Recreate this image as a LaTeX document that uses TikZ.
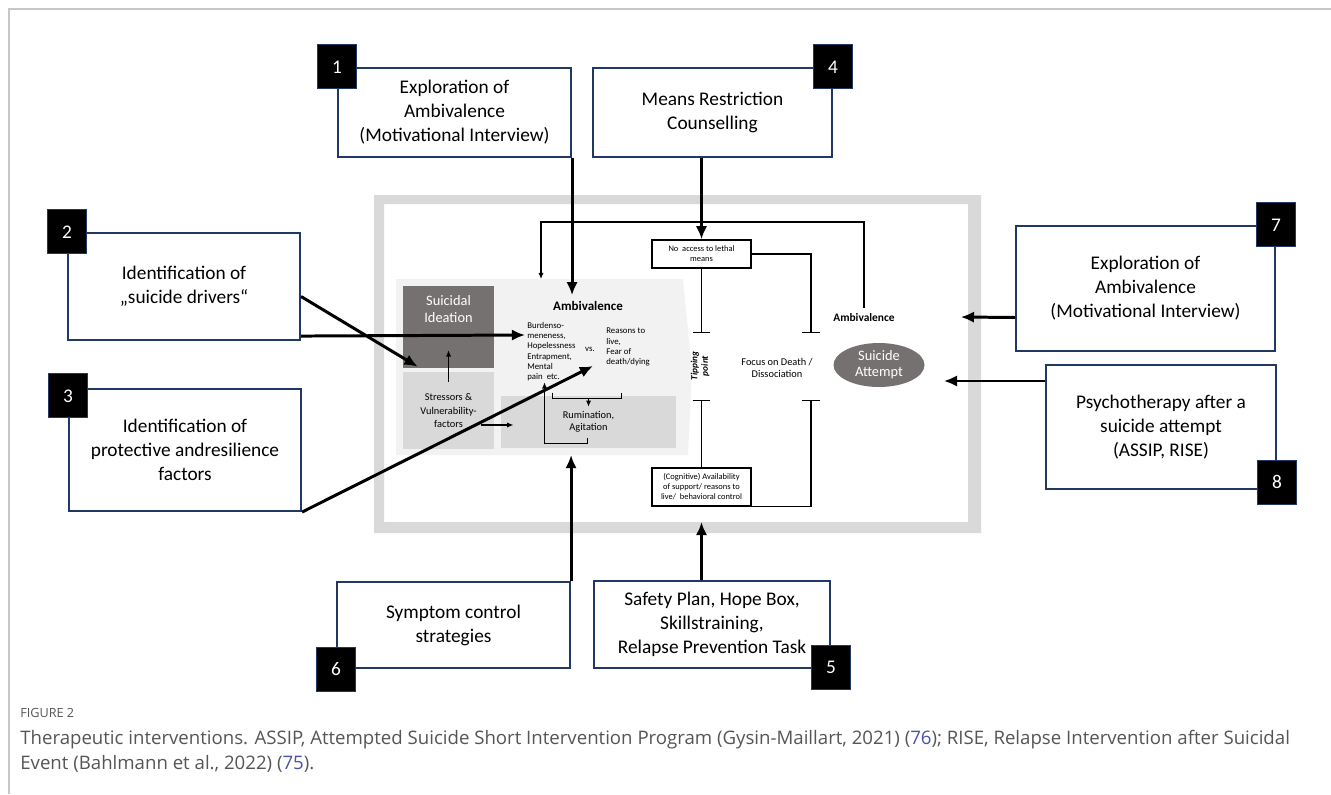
\documentclass[tikz,border=0pt]{standalone}
\usepackage{fontspec}
\setmainfont{Carlito}
\newfontfamily\capfont{Open Sans}
\usetikzlibrary{arrows.meta,calc,shapes.geometric}
\tikzset{>={Latex[length=7.5pt,width=6.5pt]}}
\definecolor{navy}{HTML}{203864}
\definecolor{darkbox}{HTML}{767171}
\definecolor{midbox}{HTML}{D9D9D9}
\definecolor{lightbox}{HTML}{F2F2F2}
\definecolor{capgray}{HTML}{555555}
\definecolor{reflink}{HTML}{4A52A6}
\def\px{*0.02cm}
\tikzstyle{ibox}=[draw=navy,line width=1.2pt,align=center,font=\fontsize{11}{13.6}\selectfont]
\tikzstyle{badge}=[fill=black,draw=navy,line width=0.6pt,text=white,minimum width=39\px,minimum height=44\px,inner sep=0pt,font=\fontsize{11}{13.6}\selectfont]
\tikzstyle{bigarrow}=[->,line width=1.7pt]
\tikzstyle{thinarrow}=[-{Latex[length=3.5pt,width=3pt]},line width=0.6pt]
\tikzstyle{stopline}=[-{Bar[width=10pt]},line width=0.8pt]
\tikzstyle{small}=[font=\fontsize{5}{5.8}\selectfont,align=left,inner sep=0pt]
\tikzstyle{smallbox}=[draw,line width=0.8pt,minimum width=99\px,inner sep=0pt,align=center,font=\fontsize{4.8}{5.7}\selectfont]

\begin{document}
\begin{tikzpicture}[x=0.02cm,y=-0.02cm]
  \useasboundingbox (0,0) rectangle (1331,794);
  \draw[black!22,line width=0.6pt] (9,794) -- (9,9) -- (1331,9);

  % grey frame and model area
  \fill[midbox,even odd rule] (374,195) rectangle (981,533) (384,204) rectangle (968,522);
  \coordinate (fin) at (968,522);
  \coordinate (lt) at (396,279);
  \coordinate (lb) at (396,455);
  \coordinate (lp) at (541,222);
  \coordinate (tr) at (811,333);
  \coordinate (br) at (811,400);
  \fill[lightbox] (lt) -- (683,279) -- (692,370) -- (688,455) -- (lb) -- cycle;

  \node[fill=darkbox,minimum width=91\px,minimum height=82\px,inner sep=0pt,
    label={[anchor=north,text=white,align=center,font=\fontsize{8.2}{9.4}\selectfont,yshift=-4\px]north:{Suicidal\\Ideation}}] (si) at (448.5,327) {};
  \node[fill=midbox,minimum width=91\px,minimum height=77\px,align=center,font=\fontsize{5.9}{7.6}\selectfont] (ss) at (448.5,410.5) {Stressors \&\\Vulnerability-\\factors};
  \node[fill=midbox,minimum width=175\px,minimum height=52\px,align=center,font=\fontsize{5.9}{6.6}\selectfont] (ru) at (588.5,422) {Rumination,\\Agitation};
  \node[font=\bfseries\fontsize{7.4}{8.5}\selectfont] (amb) at (588,306) {Ambivalence};
  \node[small,anchor=north west] (burd) at (527,322) {Burdenso-\\meneness,\\Hopelessness\\Entrapment,\\Mental\\pain\ \ etc.};
  \node[small] (vs) at (590,349) {vs.};
  \node[small,anchor=north west] (reas) at (606,328) {Reasons to\\live,\\Fear of\\death/dying};

  \node[smallbox,minimum height=28\px] (noacc) at (701.5,254) {No\ \ access to lethal\\means};
  \node[smallbox,minimum height=38\px] (cog) at (701.5,487) {(Cognitive) Availability\\of support/ reasons to\\live/\ \ behavioral control};
  \node[rotate=90,align=center,font=\bfseries\itshape\fontsize{5.3}{6}\selectfont] (tip) at (700,366) {Tipping\\point};
  \node[align=center,font=\fontsize{5.9}{6.8}\selectfont] (fd) at (777,368) {Focus on Death /\\Dissociation};
  \node[font=\bfseries\fontsize{6.5}{7.5}\selectfont] (amb2) at (864,318) {Ambivalence};
  \node[ellipse,fill=darkbox,text=white,minimum width=91\px,minimum height=44\px,inner sep=0pt,align=center,font=\fontsize{8.2}{9}\selectfont] (att) at (879,365) {Suicide\\Attempt};

  % links inside the model
  \draw[thinarrow] ([yshift=-10\px]ss.north) -- ([yshift=18\px]si.south);
  \draw[thinarrow] ($(ss.east)+(-13,14.5)$) -- ($(ss.east)+(19,14.5)$);
  \draw[line width=0.6pt] ($(ru.north)+(-36,-3)$) -- ($(ru.north)+(-36,3)$) -- ($(ru.north)+(33,3)$) -- ($(ru.north)+(33,-3)$);
  \draw[thinarrow] ($(ru.north)+(0,3)$) -- ($(ru.north)+(0,11)$);
  \draw[thinarrow] ($(ru.south)+(-1,-10)$) -- ($(ru.south)+(-1,-5)$) -| ($(ru.south)+(-44,-66)$);
  \draw[thinarrow] (amb2.north) |- (lp) -- (lp |- lt);
  \draw[stopline] (noacc.south) -- (noacc.south |- tr);
  \draw[stopline] (noacc.east) -| (tr);
  \draw[stopline] (cog.north) -- (cog.north |- br);
  \draw[stopline] (cog.south east) -| (br);

  % interventions
  \node[ibox,minimum width=233\px,minimum height=89\px] (b1) at (454.5,112.5) {Exploration of\\Ambivalence\\(Motivational Interview)};
  \node[badge] (n1) at (b1.north west) {1};
  \node[ibox,minimum width=239\px,minimum height=89\px] (b4) at (712.5,112.5) {Means Restriction\\Counselling};
  \node[badge] (n4) at (b4.north east) {4};
  \node[ibox,minimum width=232\px,minimum height=107\px] (b2) at (184,286.5) {Identification of\\„suicide drivers“};
  \node[badge] (n2) at (b2.north west) {2};
  \node[ibox,minimum width=232\px,minimum height=122\px] (b3) at (185,450) {Identification of\\protective andresilience\\factors};
  \node[badge] (n3) at ($(b3.north west)+(0,8)$) {3};
  \node[ibox,minimum width=233\px,minimum height=86\px] (b6) at (453.5,625) {Symptom control\\strategies};
  \node[badge] (n6) at (b6.south west) {6};
  \node[ibox,minimum width=236\px,minimum height=87\px] (b5) at (712,624.5) {Safety Plan, Hope Box,\\Skillstraining,\\Relapse Prevention Task};
  \node[badge] (n5) at ($(b5.south east)+(0,-2)$) {5};
  \node[ibox,minimum width=259\px,minimum height=125\px] (b7) at (1145.5,288.5) {Exploration of\\Ambivalence\\(Motivational Interview)};
  \node[badge] (n7) at (b7.north east) {7};
  \node[ibox,minimum width=230\px,minimum height=124\px] (b8) at (1161,427) {Psychotherapy after a\\suicide attempt\\(ASSIP, RISE)};
  \node[badge] (n8) at ($(b8.south east)+(0,-8)$) {8};

  \draw[bigarrow] (b1.south east) -- (b1.south east |- amb.north);
  \draw[bigarrow] (noacc.north |- b4.south) -- (noacc.north);
  \draw[bigarrow] ($(b2.south east)+(0,-5)$) -- ($(burd.north west)+(-2,13)$);
  \draw[bigarrow] ($(b2.east)+(0,10)$) -- ($(ss.north west)+(15,-5)$);
  \draw[bigarrow] (b3.south east) -- ($(reas.north west)+(-13,38)$);
  \draw[bigarrow] (b6.north east) -- (b6.north east |- lb);
  \draw[bigarrow] (cog.south |- b5.north) -- (cog.south |- fin);
  \draw[bigarrow] ($(b7.west)+(0,29)$) -- ($(amb2.east)+(60,-1)$);
  \draw[bigarrow] ($(b8.west)+(0,-46)$) -- ($(att.east)+(19,16)$);

  % caption
  \node[anchor=north west,inner sep=0pt,text=capgray,font=\capfont\fontsize{7.2}{8}\selectfont] (fig) at (20,708) {FIGURE 2};
  \node[anchor=north west,inner sep=0pt,align=left,text=capgray,font=\capfont\fontsize{10.6}{13.9}\selectfont] (cap) at (20,730)
    {Therapeutic interventions. ASSIP, Attempted Suicide Short Intervention Program (Gysin-Maillart, 2021) (\textcolor{reflink}{76}); RISE, Relapse Intervention after Suicidal\\Event (Bahlmann et al., 2022) (\textcolor{reflink}{75}).};
\end{tikzpicture}
\end{document}
